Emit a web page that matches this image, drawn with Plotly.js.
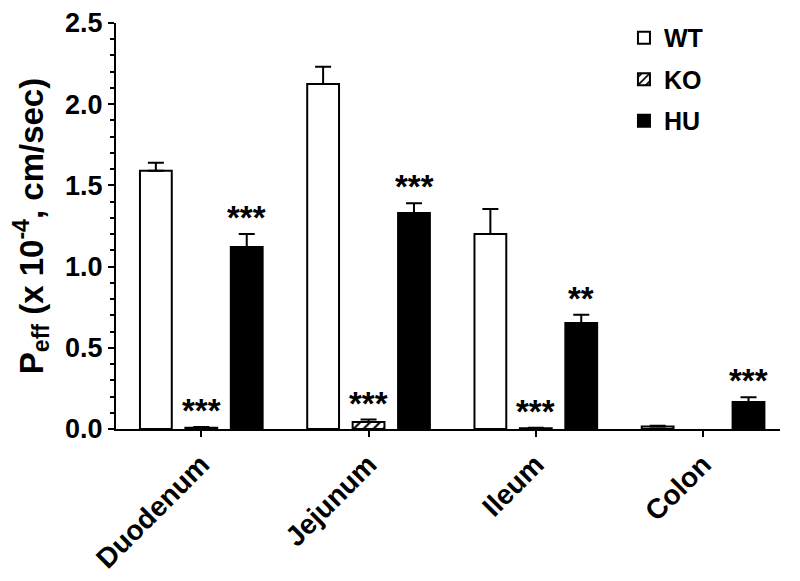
<!DOCTYPE html>
<html>
<head>
<meta charset="utf-8">
<script src="https://cdn.plot.ly/plotly-3.0.1.min.js"></script>
<style>html,body{margin:0;padding:0;background:#fff;}#chart{width:800px;height:581px;}</style>
</head>
<body>
<div id="chart"></div>
<script>
const categories = ["Duodenum", "Jejunum", "Ileum", "Colon"];
const seriesNames = ["WT", "KO", "HU"];
const wtValues = [1.59, 2.125, 1.20, 0.015];
const wtErrors = [0.05, 0.105, 0.155, 0.005];
const koValues = [0.008, 0.043, 0.004, null];
const koErrors = [0.004, 0.015, 0.003, null];
const huValues = [1.12, 1.33, 0.653, 0.166];
const huErrors = [0.08, 0.06, 0.05, 0.03];
const koSignif = ["***", "***", "***", ""];
const huSignif = ["***", "***", "**", "***"];
const yTickVals = [0, 0.5, 1.0, 1.5, 2.0, 2.5];
const yTickText = ["0.0", "0.5", "1.0", "1.5", "2.0", "2.5"];

const FONT = "Liberation Sans, Arial, Helvetica, sans-serif";

function errBar(arr) {
  return {type: "data", symmetric: false, array: arr, arrayminus: arr.map(() => 0),
          color: "#000", thickness: 2, width: 8};
}

const traces = [
  {type: "bar", name: seriesNames[0], legendgroup: "a", x: categories, y: wtValues,
   marker: {color: "#fff", line: {color: "#000", width: 2}},
   error_y: errBar(wtErrors)},
  {type: "bar", name: seriesNames[1], legendgroup: "b", x: categories, y: koValues,
   marker: {color: "#fff", line: {color: "#000", width: 2},
            pattern: {shape: "/", fgcolor: "#000", bgcolor: "#fff", size: 7, solidity: 0.3}},
   error_y: errBar(koErrors)},
  {type: "bar", name: seriesNames[2], legendgroup: "c", x: categories, y: huValues,
   marker: {color: "#000", line: {color: "#000", width: 2}},
   error_y: errBar(huErrors)}
];

const slot = 45.5;
const annotations = [];
categories.forEach((c, i) => {
  if (koSignif[i]) annotations.push({x: c, y: (koValues[i] || 0) + (koErrors[i] || 0), xref: "x", yref: "y",
    text: koSignif[i], showarrow: false, yanchor: "bottom", yshift: -4,
    font: {family: FONT, size: 33, color: "#000", weight: "bold"}});
  if (huSignif[i]) annotations.push({x: c, y: huValues[i] + huErrors[i], xref: "x", yref: "y",
    text: huSignif[i], showarrow: false, yanchor: "bottom", yshift: -4, xshift: slot,
    font: {family: FONT, size: 33, color: "#000", weight: "bold"}});
});

const layout = {
  width: 800, height: 581,
  margin: {l: 116, r: 20, t: 23, b: 152},
  paper_bgcolor: "#fff", plot_bgcolor: "#fff",
  font: {family: FONT, color: "#000"},
  barmode: "group", bargap: 0.185, bargroupgap: 0.3,
  showlegend: true,
  legend: {x: 0.765, xanchor: "left", y: 1.02, yanchor: "top",
           font: {family: FONT, size: 25, weight: "bold"}, tracegroupgap: 6,
           bgcolor: "rgba(0,0,0,0)", itemwidth: 30},
  xaxis: {type: "category", range: [-0.51, 3.46], showline: true, linecolor: "#000", linewidth: 2,
          ticks: "outside", ticklen: 6, tickwidth: 2, tickcolor: "#000",
          tickangle: -45, tickfont: {family: FONT, size: 28, weight: "bold"},
          showgrid: false, zeroline: false},
  yaxis: {range: [0, 2.5], showline: true, linecolor: "#000", linewidth: 2,
          ticks: "outside", ticklen: 6, tickwidth: 2, tickcolor: "#000",
          tickvals: yTickVals, ticktext: yTickText,
          minor: {dtick: 0.1, ticks: "outside", ticklen: 4, tickwidth: 2, tickcolor: "#000", showgrid: false},
          tickfont: {family: FONT, size: 27, weight: "bold"},
          showgrid: false, zeroline: false,
          title: {text: "P<sub>eff</sub> (x 10<sup>-4</sup>, cm/sec)", standoff: 12,
                  font: {family: FONT, size: 33, weight: "bold"}}},
  annotations: annotations
};

Plotly.newPlot("chart", traces, layout, {displayModeBar: false, staticPlot: true});
</script>
</body>
</html>
